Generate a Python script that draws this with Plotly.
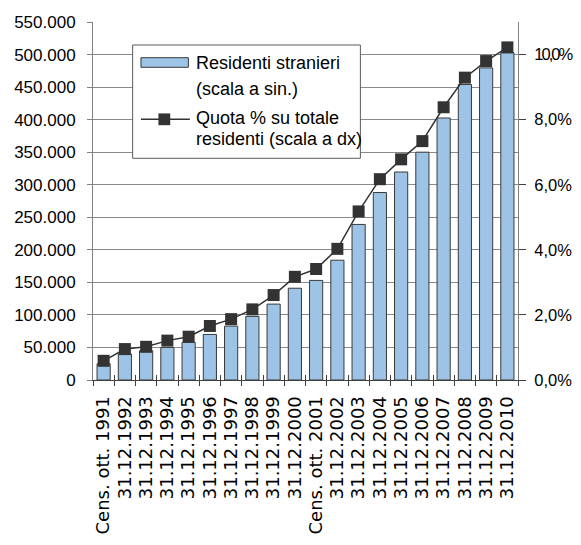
import plotly.graph_objects as go

categories = [
    "Cens. ott. 1991", "31.12.1992", "31.12.1993", "31.12.1994", "31.12.1995",
    "31.12.1996", "31.12.1997", "31.12.1998", "31.12.1999", "31.12.2000",
    "Cens. ott. 2001", "31.12.2002", "31.12.2003", "31.12.2004", "31.12.2005",
    "31.12.2006", "31.12.2007", "31.12.2008", "31.12.2009", "31.12.2010",
]
residents = [
    25000, 40000, 45000, 50000, 57800,
    70000, 82800, 97700, 116600, 141000,
    153000, 184000, 239000, 288000, 319500,
    350000, 402500, 454000, 479500, 503000,
]
share_pct = [
    0.59, 0.95, 1.02, 1.21, 1.33,
    1.66, 1.87, 2.17, 2.61, 3.17,
    3.41, 4.03, 5.18, 6.17, 6.78,
    7.34, 8.38, 9.29, 9.80, 10.22,
]
left_ticks = [0, 50000, 100000, 150000, 200000, 250000, 300000,
              350000, 400000, 450000, 500000, 550000]
right_ticks = [0, 2, 4, 6, 8, 10]
right_tick_text = ["0,0%", "2,0%", "4,0%", "6,0%", "8,0%", "10,0%"]

legend_labels = ["Residenti stranieri", "(scala a sin.)",
                 "Quota % su totale", "residenti (scala a dx)"]

# page body has an 8px default margin: figure is offset by (8, 8) on screen
OFF = 8
W, H = 581 - OFF, 545 - OFF
# plot area in screen pixels
SX0, SX1, SY0, SY1 = 93, 518.5, 22, 380
L, R, T, B = SX0 - OFF, W - (SX1 - OFF), SY0 - OFF, H - (SY1 - OFF)

def px(x):
    return (x - SX0) / (SX1 - SX0)

def py(y):
    return (SY1 - y) / (SY1 - SY0)

BAR_COLOR = "#9DC3E6"
DARK = "#333333"
AXIS_GRAY = "#808080"
TICK_FONT = dict(family="Liberation Sans, Arial, sans-serif", size=17, color="#000000")
RIGHT_FONT = dict(family="Liberation Sans, Arial, sans-serif", size=16.5, color="#000000")

# the widest right label is drawn slightly condensed, as in the reference
right_labels = [
    f'<span style="letter-spacing:-2px">{t}</span>' if len(t) > 4 else t
    for t in right_tick_text
]

fig = go.Figure()
fig.add_trace(go.Bar(
    x=categories, y=residents, xaxis="x", yaxis="y",
    marker=dict(color=BAR_COLOR, line=dict(color="#3a3a3a", width=1)),
    name="Residenti stranieri (scala a sin.)",
))
fig.add_trace(go.Scatter(
    x=categories, y=share_pct, xaxis="x2", yaxis="y2",
    mode="lines+markers",
    line=dict(color=DARK, width=1.5),
    marker=dict(symbol="square", size=12, color=DARK),
    name="Quota % su totale residenti (scala a dx)",
))

shapes = [
    # legend box
    dict(type="rect", xref="paper", yref="paper", layer="above",
         x0=px(132.7), x1=px(360.7), y0=py(45), y1=py(158.3),
         fillcolor="white", line=dict(color="#5a5a5a", width=1)),
    # bar symbol
    dict(type="rect", xref="paper", yref="paper", layer="above",
         x0=px(141), x1=px(188.5), y0=py(57.7), y1=py(67.3),
         fillcolor=BAR_COLOR, line=dict(color="#3a3a3a", width=1)),
    # line symbol
    dict(type="line", xref="paper", yref="paper", layer="above",
         x0=px(141), x1=px(190), y0=py(119.3), y1=py(119.3),
         line=dict(color=DARK, width=1.5)),
    dict(type="rect", xref="paper", yref="paper", layer="above",
         x0=px(158.5), x1=px(170.3), y0=py(113.4), y1=py(125.2),
         fillcolor=DARK, line=dict(color=DARK, width=0)),
]

legend_font = dict(family="Liberation Sans, Arial, sans-serif", size=18, color="#000000")
legend_y = [62.5, 88.5, 118, 138.5]
annotations = [
    dict(text=t, xref="paper", yref="paper", x=px(194), y=py(yy),
         xanchor="left", yanchor="middle", showarrow=False, font=legend_font)
    for t, yy in zip(legend_labels, legend_y)
]

fig.update_layout(
    width=W, height=H,
    margin=dict(l=L, r=R, t=T, b=B, pad=0, autoexpand=False),
    paper_bgcolor="white", plot_bgcolor="white",
    showlegend=False,
    bargap=0.38,
    shapes=shapes,
    annotations=annotations,
    xaxis=dict(
        type="category", categoryorder="array", categoryarray=categories,
        range=[-0.5, len(categories) - 0.5],
        tickmode="array", tickvals=categories, ticktext=categories,
        showline=True, linecolor="#404040", linewidth=1,
        ticks="outside", ticklen=5, tickcolor="#404040", tickwidth=1,
        tickson="boundaries", tickangle=-90,
        tickfont=dict(family="DejaVu Sans, sans-serif", size=18, color="#000000"),
        ticklabelstandoff=8, automargin=False,
        showgrid=False, zeroline=False,
    ),
    xaxis2=dict(
        type="category", categoryorder="array", categoryarray=categories,
        range=[-0.5, len(categories) - 0.5],
        tickmode="array", tickvals=categories,
        overlaying="x", anchor="y", side="bottom",
        ticks="inside", ticklen=5, tickcolor="#404040", tickwidth=1,
        tickson="boundaries", showticklabels=False, automargin=False,
        showline=False, showgrid=False, zeroline=False,
    ),
    yaxis=dict(
        range=[0, 550000], tickmode="array", tickvals=left_ticks,
        ticktext=[f"{v:,}".replace(",", ".") for v in left_ticks],
        showline=True, linecolor=AXIS_GRAY, linewidth=1,
        ticks="outside", ticklen=5, tickcolor=AXIS_GRAY,
        showgrid=True, gridcolor="#8a8a8a", gridwidth=1,
        zeroline=False, tickfont=TICK_FONT, ticklabelstandoff=8,
        automargin=False,
    ),
    yaxis2=dict(
        range=[0, 11], tickmode="array", tickvals=right_ticks, ticktext=right_labels,
        overlaying="y", side="right", anchor="x",
        showline=True, linecolor=AXIS_GRAY, linewidth=1,
        ticks="outside", ticklen=7, tickcolor="#404040",
        showgrid=False, zeroline=False, tickfont=RIGHT_FONT, ticklabelstandoff=5,
        automargin=False,
    ),
    yaxis3=dict(
        range=[0, 11], tickmode="array", tickvals=right_ticks,
        overlaying="y", side="right", anchor="x",
        ticks="inside", ticklen=3, tickcolor="#404040",
        showticklabels=False, showline=False, showgrid=False, zeroline=False,
        automargin=False,
    ),
)

fig.write_html("out.html")
